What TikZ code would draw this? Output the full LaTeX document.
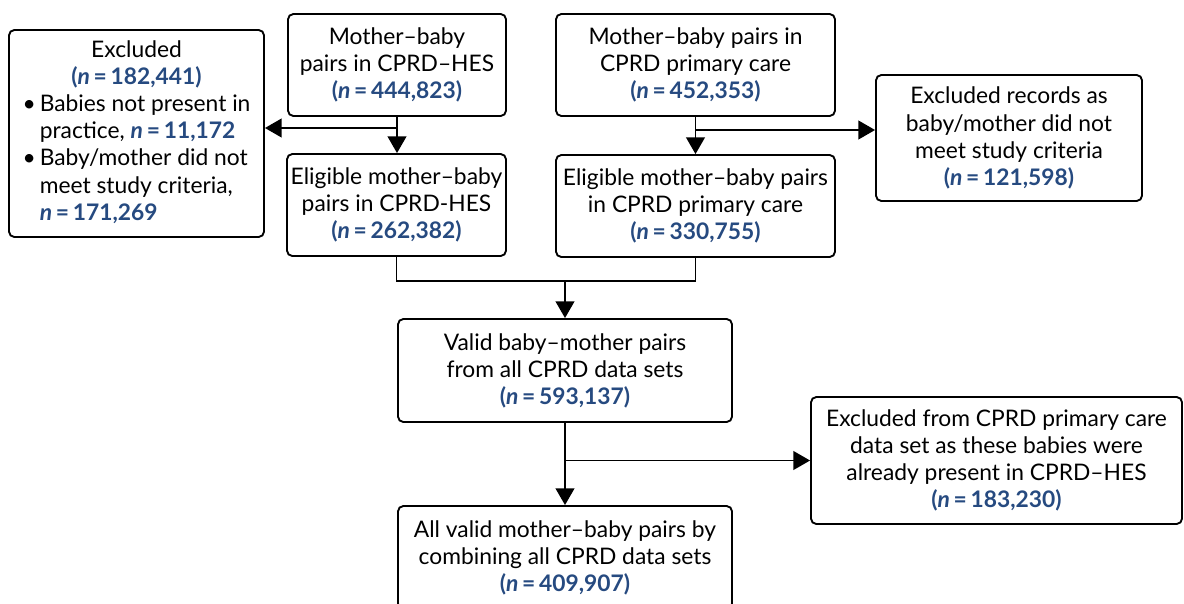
\documentclass[tikz,border=0pt]{standalone}
\usepackage{fontspec}
\setmainfont{Lato}
\usetikzlibrary{arrows.meta}
\definecolor{nblue}{RGB}{38,74,128}
\newcommand{\nval}[1]{\textcolor{nblue}{\textbf{(\textit{n}\,=\,#1)}}}
\newcommand{\nnum}[1]{\textcolor{nblue}{\textbf{\textit{n}\,=\,#1}}}
\tikzset{
  box/.style={draw, rounded corners=4pt, line width=1.4pt, align=center, inner sep=0pt,
    font=\fontsize{17.1}{20.3}\selectfont},
  wh/.style 2 args={minimum width=#1*0.75pt, minimum height=#2*0.75pt},
  arr/.style={-{Triangle[width=14pt,length=12.5pt]}, line width=1.4pt},
}

\begin{document}
\begin{tikzpicture}[x=0.75pt, y=-0.75pt]
  \useasboundingbox (0,0) rectangle (1184,603);

  \node[box, wh={255}{207}] (excl) at (136.5,133.5) {%
    \begin{tabular}{@{}l@{\hspace{3pt}}l@{}}
      \multicolumn{2}{c}{Excluded}\\
      \multicolumn{2}{c}{\nval{182,441}}\\
      \textbullet & Babies not present in\\
                  & practice, \nnum{11,172}\\
      \textbullet & Baby/mother did not\\
                  & meet study criteria,\\
                  & \nnum{171,269}
    \end{tabular}};
  \node[box, wh={218}{102}] (hes) at (397,65) {Mother--baby\\pairs in CPRD--HES\\\nval{444,823}};
  \node[box, wh={219}{102}] (hesel) at (396.5,205) {Eligible mother--baby\\pairs in CPRD-HES\\\nval{262,382}};
  \node[box, wh={279}{102}] (pc) at (695.5,65) {Mother--baby pairs in\\CPRD primary care\\\nval{452,353}};
  \node[box, wh={279}{102}] (pcel) at (695.5,206) {Eligible mother--baby pairs\\in CPRD primary care\\\nval{330,755}};
  \node[box, wh={266}{126}] (exrec) at (1009,138) {Excluded records as\\baby/mother did not\\meet study criteria\\\nval{121,598}};
  \node[box, wh={334}{103}] (valid) at (565,370.5) {Valid baby--mother pairs\\from all CPRD data sets\\\nval{593,137}};
  \node[box, wh={371}{127}] (exfrom) at (996.5,460.5) {Excluded from CPRD primary care\\data set as these babies were\\already present in CPRD--HES\\\nval{183,230}};
  \node[box, wh={334}{103}] (allv) at (565,557.5) {All valid mother--baby pairs by\\combining all CPRD data sets\\\nval{409,907}};

  % top rows
  \draw[arr] (hes.south) -- (hes.south |- hesel.north);
  \coordinate (lb) at (397,128);
  \draw[arr] (lb) -- (lb -| excl.east);
  \draw[arr] (pc.south) -- (pc.south |- pcel.north);
  \coordinate (rb) at (695.5,130);
  \draw[arr] (rb) -- (rb -| exrec.west);

  % merge
  \coordinate (mg) at (0,281);
  \draw[line width=1.4pt] (hesel.south) -- (hesel.south |- mg) -- (pcel.south |- mg) -- (pcel.south);
  \draw[arr] (valid.north |- mg) -- (valid.north);

  % bottom
  \draw[arr] (valid.south) -- (allv.north);
  \draw[arr] (valid.south |- exfrom.west) -- (exfrom.west);
\end{tikzpicture}
\end{document}
